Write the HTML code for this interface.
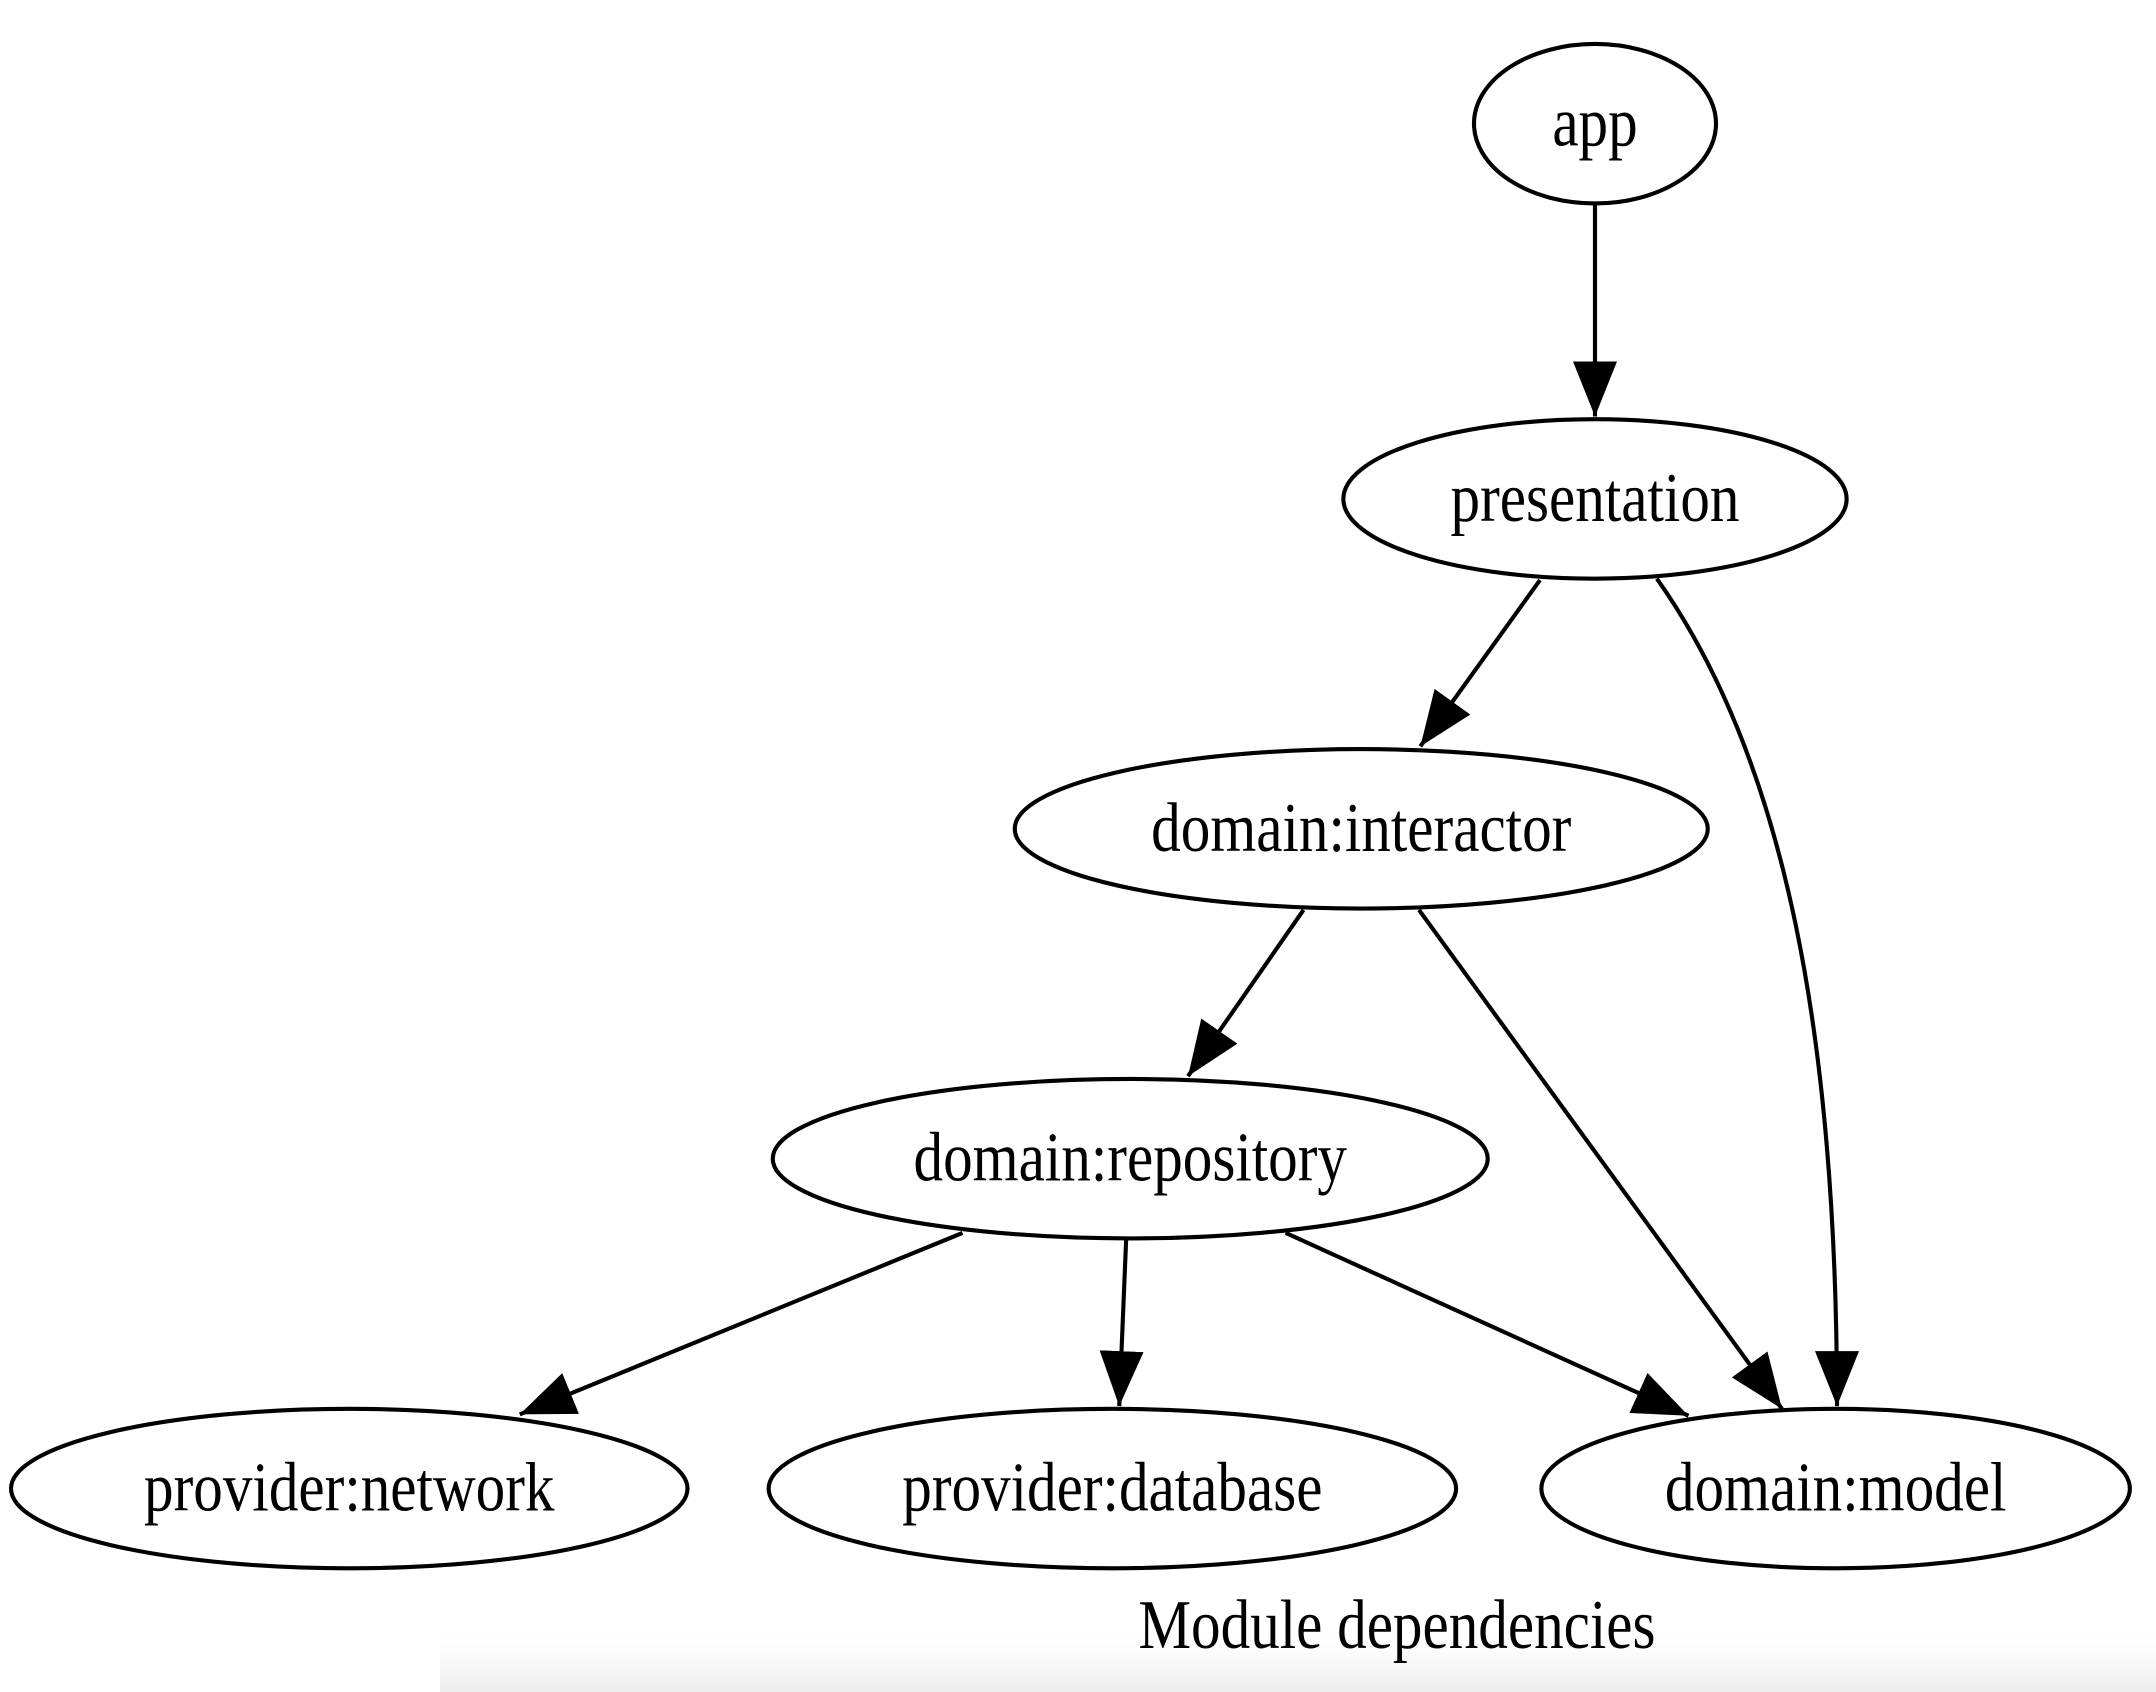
<!DOCTYPE html>
<html><head><meta charset="utf-8"><style>
html,body{margin:0;padding:0;background:#fff;}
body{width:2156px;height:1692px;overflow:hidden;}
svg{display:block;}
text{font-family:"Liberation Serif",serif;font-size:43px;fill:#000;}
</style></head><body>
<svg width="2156" height="1692" viewBox="0 0 1568 1231" preserveAspectRatio="none" xmlns="http://www.w3.org/2000/svg">
<defs>
<marker id="a" markerUnits="userSpaceOnUse" markerWidth="44" markerHeight="36" refX="40" refY="16" orient="auto">
<path d="M0,0 L40,16 L0,32 z" fill="#000"/>
</marker>
<linearGradient id="g" x1="0" y1="0" x2="0" y2="1">
<stop offset="0" stop-color="#fff" stop-opacity="0"/><stop offset="1" stop-color="#ececec"/>
</linearGradient>
</defs>
<rect x="320" y="1180" width="1248" height="51" fill="url(#g)"/>
<g fill="none" stroke="#000" stroke-width="3">
<ellipse cx="1160" cy="90" rx="88" ry="58"/>
<ellipse cx="1160" cy="363" rx="183" ry="58"/>
<ellipse cx="990" cy="603" rx="252" ry="58"/>
<ellipse cx="822" cy="843" rx="260" ry="58"/>
<ellipse cx="254" cy="1083" rx="246" ry="58"/>
<ellipse cx="809" cy="1083" rx="250" ry="58"/>
<ellipse cx="1335" cy="1083" rx="214" ry="58"/>
<g marker-end="url(#a)">
<line x1="1160" y1="149" x2="1160" y2="303"/>
<line x1="1120" y1="422" x2="1033" y2="543"/>
<path d="M1205,421 C1300,555 1336,760 1336,1023"/>
<line x1="948" y1="662" x2="864" y2="783"/>
<line x1="1032" y1="662" x2="1296" y2="1025"/>
<line x1="700" y1="897" x2="378" y2="1029"/>
<line x1="819" y1="902" x2="814" y2="1023"/>
<line x1="935" y1="897" x2="1228" y2="1030"/>
</g>
</g>
<g text-anchor="middle">
<text transform="translate(1160,106) scale(1,1.18)">app</text>
<text transform="translate(1160,379) scale(1,1.18)">presentation</text>
<text transform="translate(990,619) scale(1,1.18)">domain:interactor</text>
<text transform="translate(822,859) scale(1,1.18)">domain:repository</text>
<text transform="translate(254,1099) scale(1,1.18)">provider:network</text>
<text transform="translate(809,1099) scale(1,1.18)">provider:database</text>
<text transform="translate(1335,1099) scale(1,1.18)">domain:model</text>
<text transform="translate(1016,1199) scale(1,1.18)">Module dependencies</text>
</g>
</svg>
</body></html>
